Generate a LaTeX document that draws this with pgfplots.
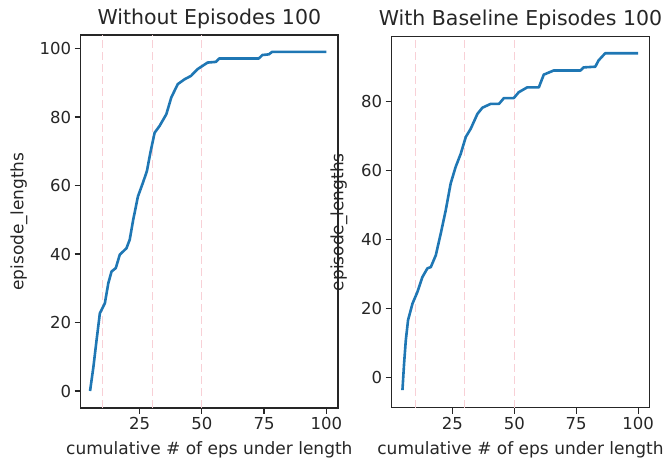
\documentclass[border=0pt]{standalone}
\usepackage{pgfplots}
\pgfplotsset{compat=1.18}
\usepackage{fontspec}
\setmainfont{DejaVu Sans}
\definecolor{mplblue}{HTML}{1F77B4}
\definecolor{vpink}{RGB}{248,208,214}
\begin{document}
\begin{tikzpicture}
\path[use as bounding box] (0,0) rectangle (665pt,462pt);
\pgfplotsset{
  myax/.style={
    anchor=south west, scale only axis,
    axis line style={black!85, line width=1.2pt},
    tick align=outside, xtick pos=bottom, ytick pos=left,
    major tick length=6pt,
    every tick/.style={black!85, line width=1.2pt},
    tick label style={font=\fontsize{16.5}{19}\selectfont, text=black!85},
    /pgf/number format/assume math mode=true,
    label style={font=\fontsize{17}{20}\selectfont, text=black!85},
    title style={font=\fontsize{20.5}{24}\selectfont, text=black!85, at={(axis description cs:0.5,1.028)}, anchor=center},
    xlabel style={at={(axis description cs:0.5,-0.113)}, anchor=center},
    xtick={25,50,75,100},
    xlabel={cumulative \# of eps under length},
    ylabel={episode\_lengths},
  }
}
\begin{axis}[myax,
  at={(80.7pt,54pt)}, width=257.3pt, height=373pt,
  xmin=1.3, xmax=104.7, ymin=-4.95, ymax=103.95,
  ytick={0,20,40,60,80,100},
  title={Without Episodes 100},
  ylabel style={at={(axis description cs:-0.24,0.5)}, anchor=center, rotate=0},
]
\addplot[vpink, line width=1.1pt, dash pattern=on 8pt off 4pt, forget plot] coordinates {(10,-4.95) (10,103.95)};
\addplot[vpink, line width=1.1pt, dash pattern=on 8pt off 4pt, forget plot] coordinates {(30,-4.95) (30,103.95)};
\addplot[vpink, line width=1.1pt, dash pattern=on 8pt off 4pt, forget plot] coordinates {(50,-4.95) (50,103.95)};
\addplot[mplblue, line width=2.6pt, line join=round] table {
x y
5.06 0
6.4 7
7.7 15
9.0 22.7
11.0 25.6
12.4 31.5
13.7 34.9
15.4 35.9
17.0 39.8
19.7 41.7
21.0 44.2
22.4 50.0
24.3 56.8
26.3 60.8
27.9 64.2
29.3 69.6
31.0 75.4
33.0 77.4
35.7 80.8
37.7 85.7
40.3 89.6
43.0 91.0
45.6 92.0
48.3 94.0
52.3 95.9
55.6 96.1
57.0 97.1
72.9 97.1
74.3 98.1
76.9 98.3
78.2 99
100 99
};
\end{axis}
\begin{axis}[myax,
  at={(391.7pt,54.3pt)}, width=257.6pt, height=371pt,
  xmin=0.5, xmax=104.5, ymin=-8.8, ymax=98.8,
  ytick={0,20,40,60,80},
  title={With Baseline Episodes 100},
  ylabel style={at={(axis description cs:-0.205,0.5)}, anchor=center, rotate=0},
]
\addplot[vpink, line width=1.1pt, dash pattern=on 8pt off 4pt, forget plot] coordinates {(10,-8.8) (10,98.8)};
\addplot[vpink, line width=1.1pt, dash pattern=on 8pt off 4pt, forget plot] coordinates {(30,-8.8) (30,98.8)};
\addplot[vpink, line width=1.1pt, dash pattern=on 8pt off 4pt, forget plot] coordinates {(50,-8.8) (50,98.8)};
\addplot[mplblue, line width=2.6pt, line join=round] table {
x y
4.84 -3.7
5.5 4.0
6.2 10.8
7.1 16.6
8.9 21.4
10.9 24.8
12.9 29.1
14.9 31.6
16.3 32.0
18.3 35.4
20.3 41.7
22.3 48.4
24.3 56.2
26.3 61.0
28.4 64.9
30.4 69.7
32.4 72.1
35.1 76.4
37.1 78.2
40.4 79.3
43.8 79.3
45.8 81.0
49.8 81.0
51.8 82.7
55.2 84.1
59.9 84.1
61.9 87.8
65.9 89.0
76.7 89.0
78.0 89.9
82.7 90.1
84.0 91.9
86.7 94
100 94
};
\end{axis}
\end{tikzpicture}
\end{document}
